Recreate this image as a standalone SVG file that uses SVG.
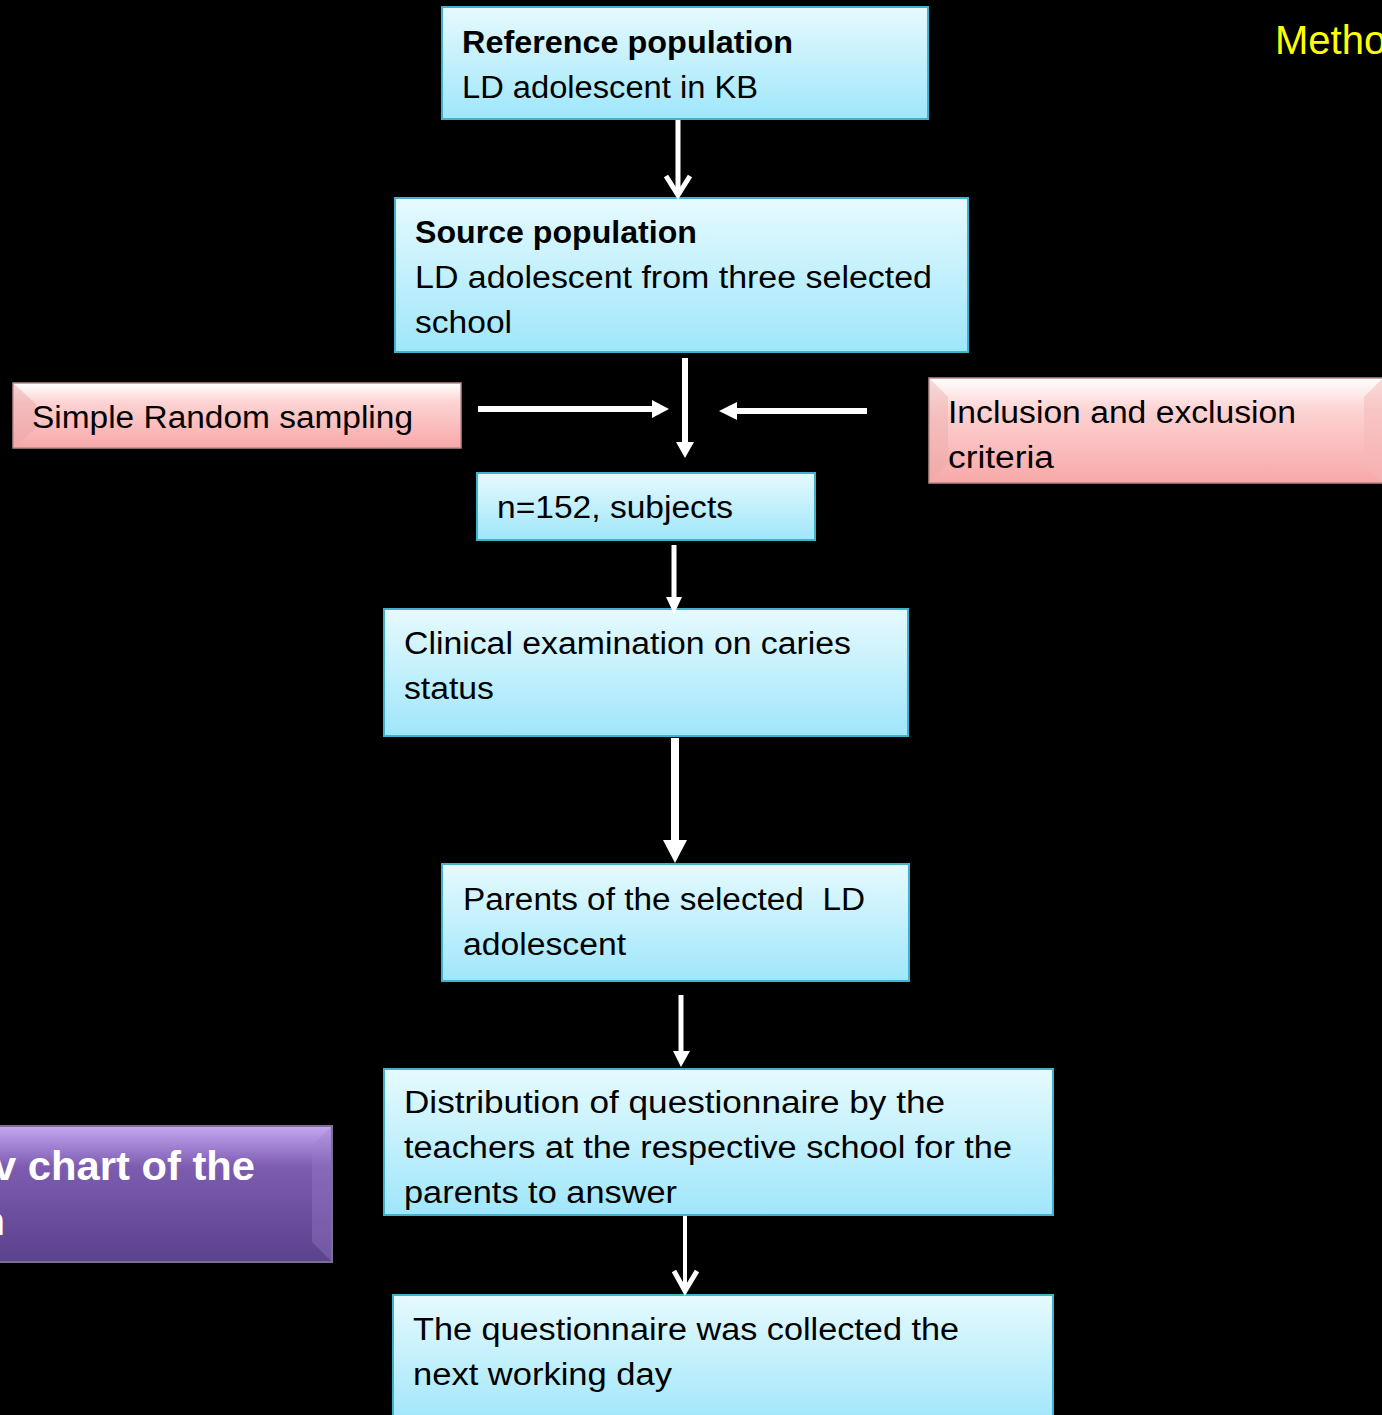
<svg xmlns="http://www.w3.org/2000/svg" width="1382" height="1415" viewBox="0 0 1382 1415">
<defs>
<linearGradient id="gBlue" x1="0" y1="0" x2="0" y2="1">
<stop offset="0" stop-color="#e6fafe"/>
<stop offset="1" stop-color="#9fe6fb"/>
</linearGradient>
<linearGradient id="gPink" x1="0" y1="0" x2="0" y2="1">
<stop offset="0" stop-color="#ffffff"/>
<stop offset="0.3" stop-color="#fdd3d3"/>
<stop offset="1" stop-color="#f8a8a8"/>
</linearGradient>
<linearGradient id="gPurple" x1="0" y1="0" x2="0" y2="1">
<stop offset="0" stop-color="#c4a6f2"/>
<stop offset="0.3" stop-color="#7d5cb0"/>
<stop offset="1" stop-color="#5b418e"/>
</linearGradient>
<style>
.blue{fill:url(#gBlue);stroke:#3fb3cc;stroke-width:2}
.pink{fill:url(#gPink);stroke:#b88a8a;stroke-width:1.5}
.purple{fill:url(#gPurple);stroke:#7a7090;stroke-width:2}
.t{font-family:"Liberation Sans",Arial,sans-serif;font-size:31px;fill:#000}
.b{font-weight:bold}
.ln{stroke:#fff;fill:none}
.hd{fill:#fff}
</style>
</defs>
<rect width="1382" height="1415" fill="#000"/>

<text x="1275" y="54" font-family="Liberation Sans, Arial, sans-serif" font-size="40" fill="#ffff00">Metho</text>

<g id="reference">
<rect class="blue" x="442" y="7" width="486" height="112"/>
<text class="t b" x="462" y="53" textLength="331" lengthAdjust="spacingAndGlyphs">Reference population</text>
<text class="t" x="462" y="98" textLength="296" lengthAdjust="spacingAndGlyphs">LD adolescent in KB</text>
</g>

<g id="source">
<rect class="blue" x="395" y="198" width="573" height="154"/>
<text class="t b" x="415" y="243" textLength="282" lengthAdjust="spacingAndGlyphs">Source population</text>
<text class="t" x="415" y="288" textLength="517" lengthAdjust="spacingAndGlyphs">LD adolescent from three selected</text>
<text class="t" x="415" y="333" textLength="97" lengthAdjust="spacingAndGlyphs">school</text>
</g>

<g id="sampling">
<rect class="pink" x="13" y="383" width="448" height="65"/>
<polygon points="14,384 36,404 36,428 14,447" fill="#e9a8a8" opacity="0.5"/>
<text class="t" x="32" y="428" textLength="381" lengthAdjust="spacingAndGlyphs">Simple Random sampling</text>
</g>

<g id="criteria">
<rect class="pink" x="929" y="378" width="470" height="105"/>
<polygon points="930,379 948,397 948,464 930,482" fill="#e9a8a8" opacity="0.4"/>
<polygon points="1382,379 1364,397 1364,464 1382,482" fill="#f3b8b8" opacity="0.5"/>
<text class="t" x="948" y="423" textLength="348" lengthAdjust="spacingAndGlyphs">Inclusion and exclusion</text>
<text class="t" x="948" y="468" textLength="106" lengthAdjust="spacingAndGlyphs">criteria</text>
</g>

<g id="subjects">
<rect class="blue" x="477" y="473" width="338" height="67"/>
<text class="t" x="497" y="518" textLength="236" lengthAdjust="spacingAndGlyphs">n=152, subjects</text>
</g>

<g id="clinical">
<rect class="blue" x="384" y="609" width="524" height="127"/>
<text class="t" x="404" y="654" textLength="447" lengthAdjust="spacingAndGlyphs">Clinical examination on caries</text>
<text class="t" x="404" y="699" textLength="90" lengthAdjust="spacingAndGlyphs">status</text>
</g>

<g id="parents">
<rect class="blue" x="442" y="864" width="467" height="117"/>
<text class="t" x="463" y="910" textLength="402" lengthAdjust="spacingAndGlyphs" xml:space="preserve">Parents of the selected  LD</text>
<text class="t" x="463" y="955" textLength="163" lengthAdjust="spacingAndGlyphs">adolescent</text>
</g>

<g id="distribution">
<rect class="blue" x="384" y="1069" width="669" height="146"/>
<text class="t" x="404" y="1113" textLength="541" lengthAdjust="spacingAndGlyphs">Distribution of questionnaire by the</text>
<text class="t" x="404" y="1158" textLength="608" lengthAdjust="spacingAndGlyphs">teachers at the respective school for the</text>
<text class="t" x="404" y="1203" textLength="273" lengthAdjust="spacingAndGlyphs">parents to answer</text>
</g>

<g id="collected">
<rect class="blue" x="393" y="1295" width="660" height="130"/>
<text class="t" x="413" y="1340" textLength="546" lengthAdjust="spacingAndGlyphs">The questionnaire was collected the</text>
<text class="t" x="413" y="1385" textLength="259" lengthAdjust="spacingAndGlyphs">next working day</text>
</g>

<g id="title">
<rect class="purple" x="-10" y="1126" width="342" height="136"/>
<polygon points="331,1127 312,1146 312,1242 331,1261" fill="#9a80cc" opacity="0.35"/>
<text x="255" y="1180" text-anchor="end" font-family="Liberation Sans, Arial, sans-serif" font-weight="bold" font-size="40" fill="#fff" textLength="262" lengthAdjust="spacingAndGlyphs">v chart of the</text>
<text x="5" y="1235" text-anchor="end" font-family="Liberation Sans, Arial, sans-serif" font-weight="bold" font-size="40" fill="#fff">n</text>
</g>

<g id="connectors">
<line class="ln" x1="678" y1="120" x2="678" y2="195" stroke-width="5"/>
<polyline class="ln" points="666,176 678,195 690,176" stroke-width="5"/>

<line class="ln" x1="685" y1="358" x2="685" y2="443" stroke-width="6"/>
<polygon class="hd" points="676,442 694,442 685,458"/>

<line class="ln" x1="478" y1="409" x2="653" y2="409" stroke-width="6"/>
<polygon class="hd" points="652,400 652,418 669,409"/>

<line class="ln" x1="867" y1="411" x2="736" y2="411" stroke-width="6"/>
<polygon class="hd" points="737,402 737,420 719,411"/>

<line class="ln" x1="674" y1="545" x2="674" y2="598" stroke-width="5"/>
<polygon class="hd" points="666,597 682,597 674,614"/>

<line class="ln" x1="675" y1="738" x2="675" y2="841" stroke-width="8"/>
<polygon class="hd" points="663,840 687,840 675,863"/>

<line class="ln" x1="681" y1="995" x2="681" y2="1052" stroke-width="5"/>
<polygon class="hd" points="673,1051 690,1051 681,1067"/>

<line class="ln" x1="685" y1="1216" x2="685" y2="1291" stroke-width="4"/>
<polyline class="ln" points="674,1271 685,1291 697,1271" stroke-width="5"/>
</g>
</svg>
